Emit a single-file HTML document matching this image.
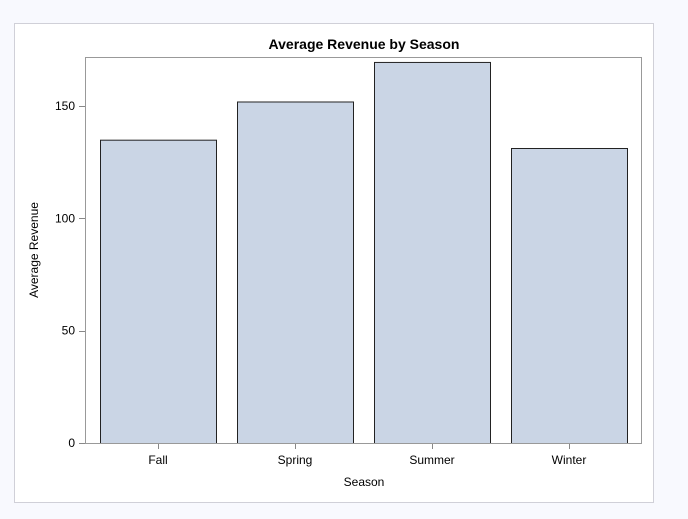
<!DOCTYPE html>
<html><head><meta charset="utf-8"><style>
body{margin:0;background:#f8f9fe;font-family:"Liberation Sans",sans-serif;overflow:hidden;}
</style></head><body>
<svg width="688" height="519" xmlns="http://www.w3.org/2000/svg" style="display:block">
<rect x="0" y="0" width="688" height="519" fill="#f8f9fe"/>
<rect x="14.5" y="23.5" width="639" height="479" fill="#fff" stroke="#d0d0d8"/>
<text x="364" y="49" text-anchor="middle" font-size="14" font-weight="bold" fill="#000">Average Revenue by Season</text>
<g id="bars"></g>
<g id="axes"></g>
<text x="364" y="486" text-anchor="middle" font-size="12" fill="#000">Season</text>
<text transform="translate(38,250) rotate(-90)" text-anchor="middle" font-size="12" fill="#000">Average Revenue</text>
</svg>
<script>
const categories=["Fall","Spring","Summer","Winter"];
const values=[135,152,169.6,131.3];
const yTicks=[0,50,100,150];
const NS="http://www.w3.org/2000/svg";
const plotL=85,plotR=641,plotT=57,plotB=443,yMax=171.8;
function y(v){return plotB-(v/yMax)*(plotB-plotT);}
const band=137,pad=73;
function xc(i){return plotL+pad+band*i;}
const barW=116;
const bars=document.getElementById('bars'),axes=document.getElementById('axes');
function mk(tag,attrs,parent){const e=document.createElementNS(NS,tag);for(const k in attrs)e.setAttribute(k,attrs[k]);parent.appendChild(e);return e;}
categories.forEach((c,i)=>{
  const r=mk('rect',{x:xc(i)-barW/2+0.5,y:y(values[i])+0.5,width:barW,height:plotB-y(values[i]),fill:'#cad5e5',stroke:'#222','stroke-width':1},bars);
  
  
  const t=mk('line',{x1:xc(i)+0.5,x2:xc(i)+0.5,y1:plotB,y2:plotB+6,stroke:'#888'},axes);
  
  
  const l=mk('text',{x:xc(i),y:plotB+21,'text-anchor':'middle','font-size':12},axes);
  l.textContent=c;
  
  
});
yTicks.forEach(v=>{
  const t=mk('line',{x1:plotL-6,x2:plotL,y1:Math.round(y(v))+0.5,y2:Math.round(y(v))+0.5,stroke:'#888'},axes);
  
  
  const l=mk('text',{x:plotL-10,y:y(v)+4,'text-anchor':'end','font-size':12},axes);
  l.textContent=v;
  
  
});
const f=mk('rect',{x:plotL+0.5,y:plotT+0.5,width:plotR-plotL,height:plotB-plotT,fill:'none',stroke:'#999'},axes);


</script>
</body></html>
